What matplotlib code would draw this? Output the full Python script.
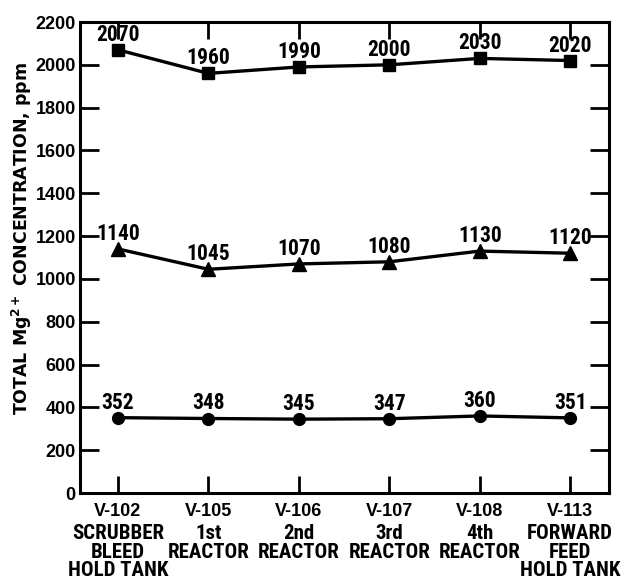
import matplotlib
matplotlib.use("Agg")
import matplotlib.pyplot as plt

# Vessel sampling points along the process train
vessels = ["V-102", "V-105", "V-106", "V-107", "V-108", "V-113"]
descriptions = [
    ["SCRUBBER", "BLEED", "HOLD TANK"],
    ["1st", "REACTOR"],
    ["2nd", "REACTOR"],
    ["3rd", "REACTOR"],
    ["4th", "REACTOR"],
    ["FORWARD", "FEED", "HOLD TANK"],
]

# Total Mg2+ concentration, ppm, for three runs
run_square = [2070, 1960, 1990, 2000, 2030, 2020]
run_triangle = [1140, 1045, 1070, 1080, 1130, 1120]
run_circle = [352, 348, 345, 347, 360, 351]

y_ticks = list(range(0, 2201, 200))

REGULAR = ["Liberation Sans", "DejaVu Sans"]
NARROW = ["Roboto Condensed", "DejaVu Sans"]

plt.rcParams["font.family"] = REGULAR
plt.rcParams["font.weight"] = "bold"
plt.rcParams["mathtext.fontset"] = "custom"
plt.rcParams["mathtext.bf"] = "DejaVu Sans:bold"
plt.rcParams["mathtext.rm"] = "DejaVu Sans:bold"

fig = plt.figure(figsize=(6.24, 5.79), dpi=100)
ax = fig.add_axes([0.1282, 0.1485, 0.8478, 0.8135])

x = list(range(len(vessels)))
series = [(run_square, "s", 9), (run_triangle, "^", 9.5), (run_circle, "o", 8.5)]
for values, marker, ms in series:
    ax.plot(x, values, color="black", lw=2.4, marker=marker, ms=ms,
            markerfacecolor="black", markeredgecolor="black", zorder=3)
    for xi, v in zip(x, values):
        ax.annotate(f"{v}", (xi, v), xytext=(0, 6.5), textcoords="offset points",
                    ha="center", va="baseline", fontsize=15.5, fontweight="bold",
                    family=NARROW)

ax.set_xlim(-0.42, 5.43)
ax.set_ylim(0, 2200)
ax.tick_params(axis="y", direction="in", length=14, width=2, pad=3,
               left=True, right=True, labelsize=13)
ax.tick_params(axis="x", direction="in", length=12.5, width=2, pad=7,
               bottom=True, top=True, labelsize=13)
ax.set_yticks(y_ticks)
ax.set_yticklabels([str(t) for t in y_ticks])
ax.set_xticks(x)
ax.set_xticklabels(vessels)
for sp in ax.spines.values():
    sp.set_linewidth(2.2)

# Descriptive names under each vessel label
for xi, lines in zip(x, descriptions):
    for i, line in enumerate(lines):
        ax.annotate(line, (xi, 0), xycoords=("data", "axes fraction"),
                    xytext=(0, -(31 + 18.5 * i) * 0.72), textcoords="offset points",
                    ha="center", va="top", fontsize=15, fontweight="bold",
                    family=NARROW, annotation_clip=False)

fig.text(22 / 624, 1 - 238 / 579,
         r"TOTAL Mg$^{\mathbf{2+}}$ CONCENTRATION, ppm",
         rotation=90, ha="center", va="center", fontsize=12.5,
         fontweight="bold", family=["DejaVu Sans"])

fig.savefig("out.png", dpi=100)
